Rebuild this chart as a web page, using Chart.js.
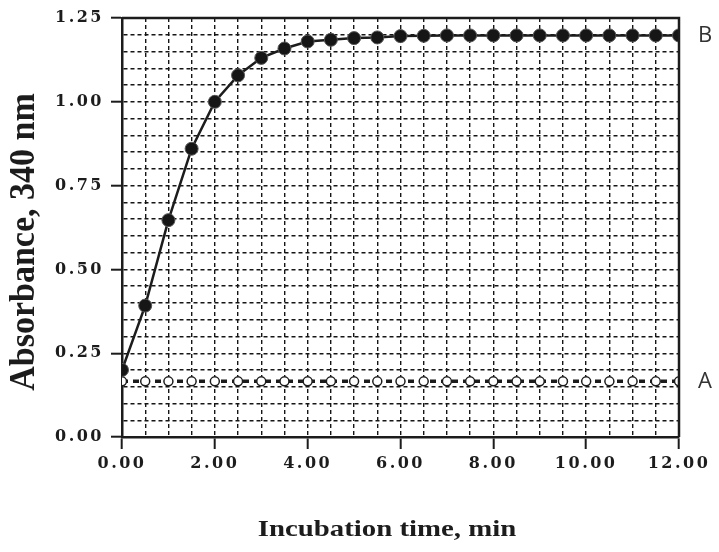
<!DOCTYPE html>
<html lang="en">
<head>
    <meta charset="UTF-8">
    <title>Absorbance vs incubation time</title>
    <script src="https://cdn.jsdelivr.net/npm/chart.js"></script>
    <style>
        html, body { margin: 0; padding: 0; background: #fff; }
        #wrap { width: 719px; height: 552px; position: relative; }
    </style>
</head>
<body>
    <div id="wrap"><canvas id="absChart"></canvas></div>

    <script>
        // incubation time (min), one reading every 0.5 min
        const times = [0, 0.5, 1, 1.5, 2, 2.5, 3, 3.5, 4, 4.5, 5, 5.5, 6,
                       6.5, 7, 7.5, 8, 8.5, 9, 9.5, 10, 10.5, 11, 11.5, 12];
        // curve B (filled circles)
        const absB = [0.20, 0.392, 0.647, 0.86, 1.00, 1.079, 1.131, 1.159, 1.18, 1.185, 1.19, 1.192, 1.196,
                      1.197, 1.198, 1.198, 1.198, 1.198, 1.198, 1.198, 1.198, 1.198, 1.198, 1.198, 1.198];
        // curve A (open circles)
        const absA = [0.166, 0.166, 0.166, 0.166, 0.166, 0.166, 0.166, 0.166, 0.166, 0.166, 0.166, 0.166, 0.166,
                      0.166, 0.166, 0.166, 0.166, 0.166, 0.166, 0.166, 0.166, 0.166, 0.166, 0.166, 0.166];
        const seriesNames = ['B', 'A'];
        const xTitle = 'Incubation time, min';
        const yTitle = 'Absorbance, 340 nm';

        const tickFont = { family: '"DejaVu Serif", serif', size: 16, weight: 'bold' };
        const ink = '#1c1c1c';

        function isStep(v, step) {
            const r = v / step;
            return Math.abs(r - Math.round(r)) < 1e-6;
        }

        // letter spacing for the tick labels, then frame, titles and end labels
        const textPlugin = {
            id: 'textPlugin',
            beforeDraw(chart) {
                chart.ctx.letterSpacing = '2.5px';
            },
            afterDraw(chart) {
                const ctx = chart.ctx;
                const area = chart.chartArea;
                ctx.save();
                ctx.letterSpacing = '0px';

                // top and right frame
                ctx.strokeStyle = ink;
                ctx.lineWidth = 2.5;
                ctx.beginPath();
                ctx.moveTo(area.left, area.top);
                ctx.lineTo(area.right, area.top);
                ctx.lineTo(area.right, area.bottom);
                ctx.stroke();

                // series names at the end of each curve
                ctx.fillStyle = '#333';
                ctx.font = '22px "Open Sans", sans-serif';
                ctx.textAlign = 'left';
                ctx.textBaseline = 'middle';
                chart.data.datasets.forEach((ds, i) => {
                    const pts = chart.getDatasetMeta(i).data;
                    const last = pts[pts.length - 1];
                    ctx.fillText(ds.label, area.right + 19, last.y);
                });

                // axis titles (bold serif, slightly widened)
                ctx.fillStyle = ink;
                ctx.font = 'bold 24px "Liberation Serif", serif';
                ctx.textAlign = 'center';
                ctx.textBaseline = 'alphabetic';
                ctx.save();
                ctx.translate(387, 536);
                ctx.scale(1.2, 1);
                ctx.fillText(xTitle, 0, 0);
                ctx.restore();

                ctx.font = 'bold 34px "Liberation Serif", serif';
                ctx.save();
                ctx.translate(34, 242);
                ctx.rotate(-Math.PI / 2);
                ctx.scale(1, 1.05);
                ctx.fillText(yTitle, 0, 0);
                ctx.restore();

                ctx.restore();
            }
        };

        new Chart(document.getElementById('absChart'), {
            type: 'line',
            data: {
                datasets: [
                    {
                        label: seriesNames[0],
                        data: times.map((t, i) => ({ x: t, y: absB[i] })),
                        borderColor: ink,
                        borderWidth: 2.5,
                        tension: 0,
                        pointRadius: 6.5,
                        pointBackgroundColor: '#161616',
                        pointBorderColor: '#555',
                        pointBorderWidth: 1
                    },
                    {
                        label: seriesNames[1],
                        data: times.map((t, i) => ({ x: t, y: absA[i] })),
                        borderColor: ink,
                        borderWidth: 3.5,
                        borderDash: [6, 5],
                        tension: 0,
                        pointRadius: 4.5,
                        pointBackgroundColor: '#fff',
                        pointBorderColor: ink,
                        pointBorderWidth: 1.5
                    }
                ]
            },
            options: {
                responsive: true,
                maintainAspectRatio: false,
                devicePixelRatio: 1,
                animation: false,
                layout: { padding: { top: 18, right: 40, bottom: 0, left: 0 } },
                plugins: {
                    legend: { display: false },
                    tooltip: { enabled: false }
                },
                scales: {
                    x: {
                        type: 'linear',
                        min: 0,
                        max: 12,
                        afterFit: s => { s.height = 552 - 437; },
                        ticks: {
                            stepSize: 0.5,
                            autoSkip: false,
                            maxRotation: 0,
                            padding: 5,
                            color: ink,
                            font: tickFont,
                            callback: v => isStep(v, 2) ? v.toFixed(2) : ''
                        },
                        grid: {
                            color: '#151515',
                            lineWidth: 1.4,
                            tickLength: 12,
                            tickWidth: 2,
                            tickColor: c => (c.tick && isStep(c.tick.value, 2)) ? ink : 'transparent'
                        },
                        border: { color: ink, width: 2.5, dash: [4, 3] }
                    },
                    y: {
                        min: 0,
                        max: 1.25,
                        afterFit: s => { s.width = 122; },
                        ticks: {
                            stepSize: 0.05,
                            maxTicksLimit: 40,
                            autoSkip: false,
                            padding: 7,
                            color: ink,
                            font: tickFont,
                            callback: v => isStep(v, 0.25) ? v.toFixed(2) : ''
                        },
                        grid: {
                            color: '#151515',
                            lineWidth: 1.4,
                            tickLength: 11,
                            tickWidth: 2,
                            tickColor: c => (c.tick && isStep(c.tick.value, 0.25)) ? ink : 'transparent'
                        },
                        border: { color: ink, width: 2.5, dash: [4, 3] }
                    }
                }
            },
            plugins: [textPlugin]
        });
    </script>
</body>
</html>
